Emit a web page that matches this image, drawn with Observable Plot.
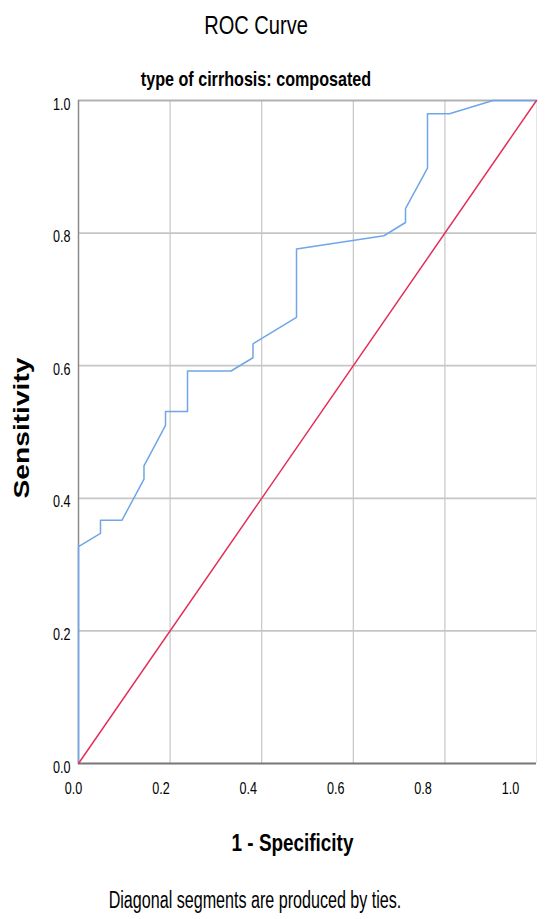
<!DOCTYPE html>
<html>
<head>
<meta charset="utf-8">
<script src="https://cdn.jsdelivr.net/npm/d3@7"></script>
<script src="https://cdn.jsdelivr.net/npm/@observablehq/plot@0.6"></script>
<style>
  html, body { margin: 0; padding: 0; background: #fff; }
  #wrap { position: relative; width: 548px; height: 919px; overflow: hidden; font-family: "Liberation Sans", Arial, sans-serif; color: #000; }
  .t { position: absolute; left: 0; width: 512px; text-align: center; white-space: nowrap; transform: scaleX(0.787); transform-origin: 256px 0; }
  #title { top: 13.4px; font-size: 25.5px; line-height: 25.5px; }
  #subtitle { top: 68.6px; font-size: 20.5px; line-height: 20.5px; font-weight: bold; }
  #caption { top: 888.5px; font-size: 23px; line-height: 23px; width: 510px; transform: scaleX(0.70); transform-origin: 255px 0; }
  #wrap svg { position: absolute; left: 0; top: 0; }
</style>
</head>
<body>
<div id="wrap">
  <div class="t" id="title">ROC Curve</div>
  <div class="t" id="subtitle">type of cirrhosis: composated</div>
  <div class="t" id="caption">Diagonal segments are produced by ties.</div>
</div>
<script>
// ROC curve points (1 - specificity, sensitivity)
const fpr = [0, 0, 0.048, 0.048, 0.095, 0.143, 0.143, 0.190, 0.190, 0.238, 0.238, 0.333, 0.381, 0.381, 0.476, 0.476, 0.667, 0.714, 0.714, 0.762, 0.762, 0.810, 0.905, 1.0];
const tpr = [0, 0.327, 0.347, 0.367, 0.367, 0.429, 0.449, 0.510, 0.531, 0.531, 0.592, 0.592, 0.612, 0.633, 0.673, 0.776, 0.796, 0.816, 0.837, 0.898, 0.980, 0.980, 1.0, 1.0];
// reference diagonal
const refX = [0, 1];
const refY = [0, 1];
// ticks
const axisTicks = [0, 0.2, 0.4, 0.6, 0.8, 1.0];
const gridTicks = [0.2, 0.4, 0.6, 0.8];
const xLabel = "1 - Specificity";
const yLabel = "Sensitivity";

const rocPoints = fpr.map((x, i) => ({x, y: tpr[i]}));
const refPoints = refX.map((x, i) => ({x, y: refY[i]}));
const fmt = d => d.toFixed(1);

const chart = Plot.plot({
  width: 548,
  height: 919,
  marginTop: 100,
  marginBottom: 156,
  marginLeft: 78,
  marginRight: 12,
  x: {domain: [0, 1]},
  y: {domain: [0, 1]},
  style: {fontFamily: '"Liberation Sans", Arial, sans-serif', background: "transparent", color: "#000"},
  marks: [
    Plot.gridX(gridTicks, {stroke: "#c6c6c6", strokeOpacity: 1, strokeWidth: 1.2}),
    Plot.gridY(gridTicks, {stroke: "#c6c6c6", strokeOpacity: 1, strokeWidth: 1.8}),
    Plot.ruleY([1], {stroke: "#b2b2b2", strokeWidth: 1.8}),
    Plot.ruleX([1], {stroke: "#e4e4e4", strokeWidth: 1}),
    Plot.axisX(axisTicks, {tickSize: 0, tickPadding: 19, tickFormat: fmt, fontSize: 16, label: null}),
    Plot.axisY(axisTicks, {tickSize: 0, tickPadding: 8, tickFormat: fmt, fontSize: 16, dy: 4, label: null}),
    Plot.ruleX([0], {stroke: "#8a8a8a", strokeWidth: 1.5}),
    Plot.ruleY([0], {stroke: "#777777", strokeWidth: 2}),
    Plot.line(rocPoints, {x: "x", y: "y", stroke: "#70a5e8", strokeWidth: 1.5}),
    Plot.line(refPoints, {x: "x", y: "y", stroke: "#e3305a", strokeWidth: 1.5}),
    Plot.text([xLabel], {text: d => d, frameAnchor: "bottom", textAnchor: "middle", lineAnchor: "top", dx: -15, dy: 70, fontSize: 24, fontWeight: "bold"}),
    Plot.text([yLabel], {text: d => d, frameAnchor: "left", textAnchor: "middle", rotate: -90, lineAnchor: "top", dx: -65, dy: -4, fontSize: 22, fontWeight: "bold"})
  ]
});

document.getElementById("wrap").appendChild(chart);

// Emulate the vertically stretched text of the original
chart.querySelectorAll("text").forEach(t => {
  const len = t.getComputedTextLength();
  if (!len) return;
  const factor = t.textContent === yLabel ? 1.28 : 0.787;
  t.setAttribute("textLength", (len * factor).toFixed(2));
  t.setAttribute("lengthAdjust", "spacingAndGlyphs");
});
// x tick labels sit slightly left of their grid lines in the original
chart.querySelectorAll('g[aria-label="x-axis tick label"] text').forEach(t => {
  const v = +t.textContent;
  const shift = -5 - 21 * v;
  t.setAttribute("transform", (t.getAttribute("transform") || "") + ` translate(${shift},0)`);
});
</script>
</body>
</html>
